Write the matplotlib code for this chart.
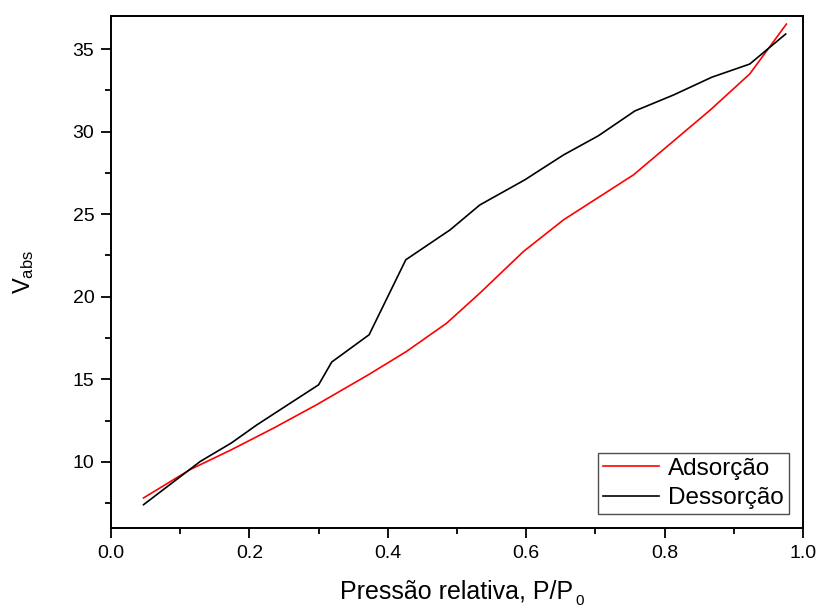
import numpy as np
import matplotlib
matplotlib.use("Agg")
import matplotlib.pyplot as plt
from matplotlib.ticker import MultipleLocator

plt.rcParams['font.family'] = ['Liberation Sans', 'DejaVu Sans']
plt.rcParams['mathtext.fontset'] = 'custom'
plt.rcParams['mathtext.rm'] = 'Liberation Sans'
plt.rcParams['mathtext.it'] = 'Liberation Sans'

# Adsorption branch
p_ads = [0.047, 0.114, 0.174, 0.235, 0.297, 0.372, 0.427, 0.485, 0.533,
         0.596, 0.654, 0.755, 0.866, 0.923, 0.976]
v_ads = [7.82, 9.53, 10.74, 12.05, 13.46, 15.28, 16.69, 18.40, 20.22,
         22.74, 24.66, 27.38, 31.31, 33.49, 36.51]

# Desorption branch
p_des = [0.047, 0.129, 0.174, 0.211, 0.300, 0.319, 0.373, 0.426, 0.490,
         0.533, 0.598, 0.654, 0.704, 0.757, 0.813, 0.868, 0.923, 0.975]
v_des = [7.41, 10.03, 11.15, 12.25, 14.67, 16.05, 17.70, 22.24, 24.05,
         25.56, 27.08, 28.59, 29.74, 31.25, 32.22, 33.29, 34.09, 35.91]

fig = plt.figure(figsize=(8.19, 6.10), dpi=100)
ax = fig.add_axes([111 / 819, 1 - 528 / 610, 692 / 819, 512 / 610])

ax.plot(p_ads, v_ads, color='#ff0000', lw=1.2, label='Adsorção')
ax.plot(p_des, v_des, color='black', lw=1.2, label='Dessorção')

ax.set_xlim(0.0, 1.0)
ax.set_ylim(6, 37)
ax.xaxis.set_major_locator(MultipleLocator(0.2))
ax.xaxis.set_minor_locator(MultipleLocator(0.1))
ax.yaxis.set_major_locator(MultipleLocator(5))
ax.yaxis.set_minor_locator(MultipleLocator(2.5))
ax.xaxis.set_major_formatter(matplotlib.ticker.FormatStrFormatter('%.1f'))

ax.tick_params(which='major', direction='out', length=7, width=1.3,
               labelsize=14, pad=5)
ax.tick_params(which='minor', direction='out', length=4, width=1.3)
for s in ax.spines.values():
    s.set_linewidth(1.4)

# x label with the subscript "0" dropped low, as in the original
ax.set_xlabel('Pressão relativa, P/P', fontsize=18, labelpad=13)
fig.canvas.draw()
bb = ax.xaxis.label.get_window_extent()
fig.text(bb.x1 / 819 + 0.002, 2 / 610, '0', fontsize=11,
         ha='left', va='bottom')

ax.set_ylabel(r'V$_{\mathrm{abs}}$', fontsize=17, labelpad=26)

leg = ax.legend(loc='lower right', bbox_to_anchor=(0.9798, 0.0273),
                borderaxespad=0, fontsize=17.5, frameon=True, fancybox=False,
                handlelength=2.3, handletextpad=0.4, borderpad=0.2,
                labelspacing=0.3)
leg.get_frame().set_edgecolor('#222222')
leg.get_frame().set_linewidth(1.0)

fig.savefig('out.png', dpi=100)
